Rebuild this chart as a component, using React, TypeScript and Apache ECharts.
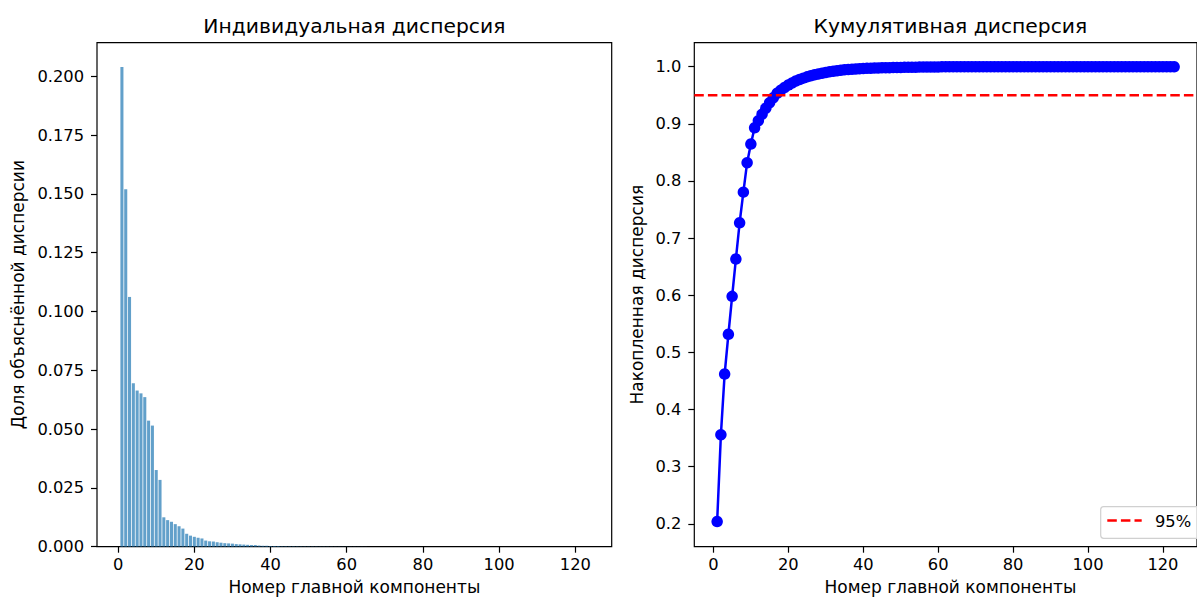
import React, { useEffect, useRef } from "react";
import * as echarts from "echarts";

// ---- data ----
const individual: number[] = [
  0.2040, 0.1520, 0.1062, 0.0695, 0.0664, 0.0652, 0.0636, 0.0536, 0.0515, 0.0326,
  0.0284, 0.0125, 0.0113, 0.0106, 0.0096, 0.0087, 0.0077, 0.0055, 0.0047, 0.0042,
  0.0038, 0.0035, 0.0026, 0.0023, 0.0022, 0.0019, 0.0017, 0.0015, 0.0014, 0.0013,
  0.0011, 0.0010, 0.0009, 0.0008, 0.0007, 0.0007, 0.0005, 0.0004, 0.0004, 0.0003,
  0.0003, 0.0003, 0.0002, 0.0002, 0.00018, 0.00017, 0.00016, 0.00015, 0.00014, 0.00013,
  0.00012, 0.00012, 0.0001, 0.0001, 0.00009, 0.00009, 0.00008, 0.00008, 0.00007, 0.00007,
  0.00006, 0.00006, 0.00005, 0.00005, 0.00004, 0, 0, 0, 0, 0,
  0, 0, 0, 0, 0, 0, 0, 0, 0, 0,
  0, 0, 0, 0, 0, 0, 0, 0, 0, 0,
  0, 0, 0, 0, 0, 0, 0, 0, 0, 0,
  0, 0, 0, 0, 0, 0, 0, 0, 0, 0,
  0, 0, 0, 0, 0, 0, 0, 0, 0, 0,
  0, 0, 0,
];
const components: number[] = individual.map((_, i) => i + 1);
const cumulative: number[] = (() => {
  let s = 0;
  return individual.map((v) => (s += v));
})();
const threshold = 0.95;
const thresholdLabel = "95%";

const xTicks = [0, 20, 40, 60, 80, 100, 120];
const leftYTicks = [0, 0.025, 0.05, 0.075, 0.1, 0.125, 0.15, 0.175, 0.2];
const rightYTicks = [0.2, 0.3, 0.4, 0.5, 0.6, 0.7, 0.8, 0.9, 1.0];

const titleLeft = "Индивидуальная дисперсия";
const titleRight = "Кумулятивная дисперсия";
const xLabel = "Номер главной компоненты";
const yLabelLeft = "Доля объяснённой дисперсии";
const yLabelRight = "Накопленная дисперсия";

// axis ranges (matplotlib-like margins)
const X0_MIN = -5.54, X0_MAX = 129.54;
const Y0_MIN = 0, Y0_MAX = 0.2143;
const X1_MIN = -5.1, X1_MAX = 129.1;
const Y1_MIN = 0.16, Y1_MAX = 1.042;

const FONT = "DejaVu Sans";
const TICK_FS = 16.3;
const LABEL_FS = 17;
const TITLE_FS = 20.3;

const G0 = { left: 97, top: 42.7, width: 514.7, height: 504 };
const G1 = { left: 694.3, top: 42.7, width: 512.2, height: 504 };

function xAxisCfg(gridIndex: number, min: number, max: number) {
  return {
    type: "value",
    gridIndex,
    min,
    max,
    splitLine: { show: false },
    axisLine: { show: false, onZero: false },
    axisTick: {
      show: true,
      length: 6,
      customValues: xTicks,
      lineStyle: { color: "#000", width: 1.2 },
    },
    axisLabel: {
      customValues: xTicks,
      margin: 10,
      fontFamily: FONT,
      fontSize: TICK_FS,
      color: "#000",
    },
  };
}

function yAxisCfg(gridIndex: number, min: number, max: number, ticks: number[], dec: number) {
  return {
    type: "value",
    gridIndex,
    min,
    max,
    splitLine: { show: false },
    axisLine: { show: false, onZero: false },
    axisTick: {
      show: true,
      length: 6,
      customValues: ticks,
      lineStyle: { color: "#000", width: 1.2 },
    },
    axisLabel: {
      customValues: ticks,
      margin: 13,
      fontFamily: FONT,
      fontSize: TICK_FS,
      color: "#000",
      formatter: (v: number) => v.toFixed(dec),
    },
  };
}

function textEl(text: string, x: number, y: number, size: number, rotation = 0) {
  return {
    type: "text",
    x,
    y,
    rotation,
    style: {
      text,
      fontFamily: FONT,
      fontSize: size,
      fill: "#000",
      align: "center",
      verticalAlign: "middle",
    },
    z: 10,
  };
}

export default function App() {
  const ref = useRef<HTMLDivElement>(null);
  useEffect(() => {
    document.body.style.margin = "0";
    const chart = echarts.init(ref.current!, null, { renderer: "svg" });
    const gridStyle = {
      show: true,
      borderColor: "#000",
      borderWidth: 1.2,
      backgroundColor: "transparent",
    };
    chart.setOption({
      animation: false,
      backgroundColor: "#fff",
      grid: [
        { ...G0, ...gridStyle },
        { ...G1, ...gridStyle },
      ],
      xAxis: [xAxisCfg(0, X0_MIN, X0_MAX), xAxisCfg(1, X1_MIN, X1_MAX)],
      yAxis: [
        yAxisCfg(0, Y0_MIN, Y0_MAX, leftYTicks, 3),
        yAxisCfg(1, Y1_MIN, Y1_MAX, rightYTicks, 1),
      ],
      series: [
        {
          type: "bar",
          xAxisIndex: 0,
          yAxisIndex: 0,
          barWidth: 3.05,
          data: components.map((c, i) => [c, individual[i]]),
          itemStyle: { color: "#1f77b4", opacity: 0.7 },
          silent: true,
        },
        {
          type: "line",
          xAxisIndex: 1,
          yAxisIndex: 1,
          data: components.map((c, i) => [c, cumulative[i]]),
          symbol: "circle",
          symbolSize: 11.5,
          showSymbol: true,
          itemStyle: { color: "#0000ff" },
          lineStyle: { color: "#0000ff", width: 2.5 },
          z: 2,
          silent: true,
        },
        {
          type: "line",
          name: thresholdLabel,
          xAxisIndex: 1,
          yAxisIndex: 1,
          data: [
            [X1_MIN, threshold],
            [X1_MAX, threshold],
          ],
          symbol: "none",
          lineStyle: { color: "#ff0000", width: 2.5, type: [9.5, 4.1] },
          z: 3,
          silent: true,
        },
      ],
      graphic: [
        textEl(titleLeft, G0.left + G0.width / 2, 26, TITLE_FS),
        textEl(titleRight, G1.left + G1.width / 2, 26, TITLE_FS),
        textEl(xLabel, G0.left + G0.width / 2, 587, LABEL_FS),
        textEl(xLabel, G1.left + G1.width / 2, 587, LABEL_FS),
        textEl(yLabelLeft, 18, G0.top + G0.height / 2, LABEL_FS, Math.PI / 2),
        textEl(yLabelRight, 637, G1.top + G1.height / 2, LABEL_FS, Math.PI / 2),
        {
          type: "rect",
          shape: { x: 1100.7, y: 506.7, width: 99, height: 31.6, r: 3 },
          style: { fill: "rgba(255,255,255,0.8)", stroke: "#d0d0d0", lineWidth: 1.2 },
          z: 10,
        },
        {
          type: "line",
          shape: { x1: 1107.3, y1: 520.5, x2: 1141.7, y2: 520.5 },
          style: { stroke: "#ff0000", lineWidth: 2.5, lineDash: [9.5, 4.1] },
          z: 11,
        },
        {
          type: "text",
          x: 1155,
          y: 521,
          style: {
            text: thresholdLabel,
            fontFamily: FONT,
            fontSize: TICK_FS,
            fill: "#000",
            align: "left",
            verticalAlign: "middle",
          },
          z: 11,
        },
      ],
    });
    return () => chart.dispose();
  }, []);
  return <div ref={ref} style={{ width: 1197, height: 597 }} />;
}
